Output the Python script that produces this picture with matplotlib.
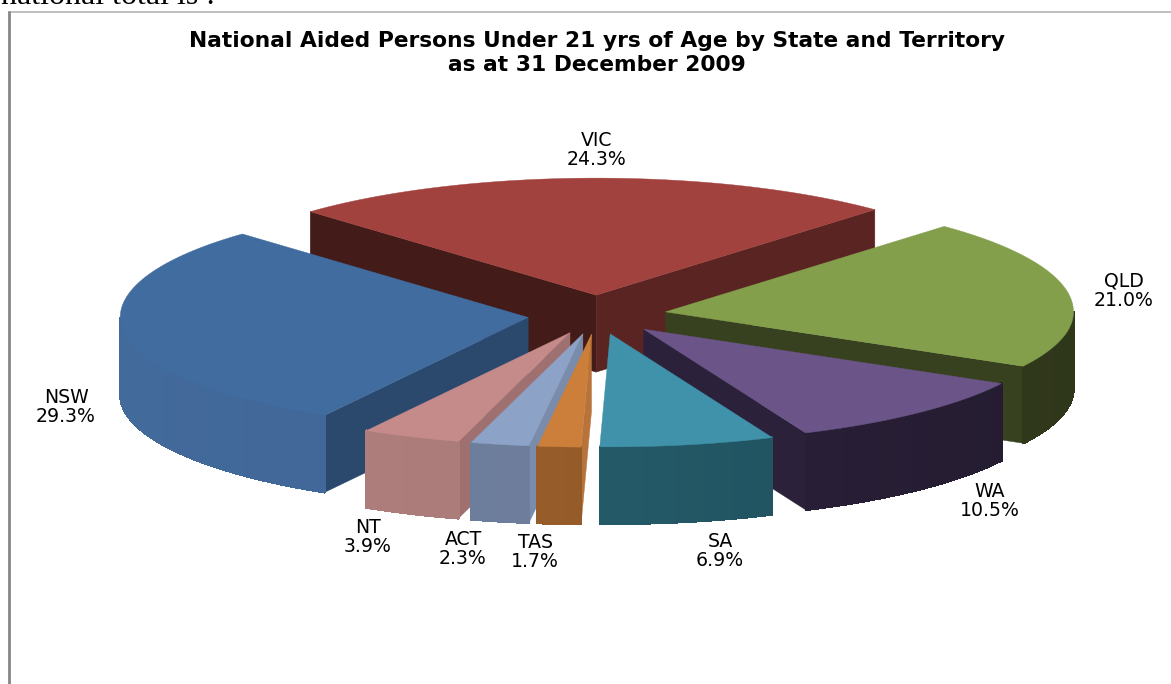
import numpy as np
import matplotlib
matplotlib.use('Agg')
import matplotlib.pyplot as plt
from matplotlib.patches import Polygon
from matplotlib.colors import to_rgb

names = ['VIC', 'QLD', 'WA', 'SA', 'TAS', 'ACT', 'NT', 'NSW']
values = [24.3, 21.0, 10.5, 6.9, 1.7, 2.3, 3.9, 29.3]

top_colors = ['#a2423e', '#839f4c', '#6a5488', '#3f92a9', '#cc7f3a', '#8ca2c6', '#c58b8a', '#416c9f']
wall_colors = ['#5a2422', '#38411f', '#2b213a', '#245a68', '#955c2a', '#6c7c9a', '#a97a78', '#3f6594']
start_colors = ['#431b18', '#38411f', '#2b213a', '#245a68', '#b8733a', '#7a8cab', '#9e7070', '#2b486d']
end_colors = ['#5a2422', '#38411f', '#2b213a', '#245a68', '#955c2a', '#6c7c9a', '#a97a78', '#3f6594']

label_x = [597, 1124, 990, 720, 535, 463, 368, 66]
label_y = [150, 291, 501, 551, 552, 549, 537, 407]

cx, cy = 597, 315
rx, ry = 408, 117
ry_front = 113
depth = 77
explode = 0.17
rotation = -0.7

fig = plt.figure(figsize=(11.71, 6.84), dpi=100)
ax = fig.add_axes([0, 0, 1, 1])
ax.set_xlim(0, 1171)
ax.set_ylim(684, 0)
ax.axis('off')


def pt(ox, oy, t, r=1.0):
    # near half of the ellipse is a little flatter than the far half
    h = np.where(np.cos(t) >= 0, ry, ry_front)
    return ox + r * rx * np.sin(t), oy - r * h * np.cos(t)


def shade(color, f):
    return tuple(min(1, c * f) for c in to_rgb(color))


total = sum(values)
angles = np.cumsum([0] + values) / total * 2 * np.pi - np.radians(values[0] / total * 180 - rotation)

slices = []
for i in range(len(values)):
    slices.append((i, angles[i], angles[i + 1]))
# paint back to front
slices.sort(key=lambda s: -np.cos((s[1] + s[2]) / 2))

for i, a, b in slices:
    mid = (a + b) / 2
    ox, oy = pt(cx, cy, mid, explode)
    # side walls from the centre out to the rim
    if np.sin(a) < 0:
        x, y = pt(ox, oy, a)
        ax.add_patch(Polygon([(ox, oy), (x, y), (x, y + depth), (ox, oy + depth)],
                             fc=start_colors[i], ec=start_colors[i], lw=0.3))
    if np.sin(b) > 0:
        x, y = pt(ox, oy, b)
        ax.add_patch(Polygon([(ox, oy), (x, y), (x, y + depth), (ox, oy + depth)],
                             fc=end_colors[i], ec=end_colors[i], lw=0.3))
    # rim, only the part facing us
    t0 = max(a, np.pi / 2)
    t1 = min(b, 3 * np.pi / 2)
    if t1 > t0:
        ts = np.linspace(t0, t1, int((t1 - t0) / np.radians(1.5)) + 2)
        for u, v in zip(ts[:-1], ts[1:]):
            f = 1 - 0.16 * max(np.sin(u), 0) + 0.05 * max(-np.sin(u), 0)
            c = shade(wall_colors[i], f)
            x0, y0 = pt(ox, oy, u)
            x1, y1 = pt(ox, oy, v)
            ax.add_patch(Polygon([(x0, y0), (x1, y1), (x1, y1 + depth), (x0, y0 + depth)],
                                 fc=c, ec=c, lw=1.0, antialiased=False))
    # top face
    ts = np.linspace(a, b, 80)
    xs, ys = pt(ox, oy, ts)
    ax.add_patch(Polygon(np.r_[[(ox, oy)], np.c_[xs, ys]], fc=top_colors[i], ec=top_colors[i], lw=0.3))

for i in range(len(names)):
    ax.text(label_x[i], label_y[i], '%s\n%.1f%%' % (names[i], values[i]), ha='center', va='center',
            family='DejaVu Sans', fontsize=13.6, color='black', linespacing=1.03)

ax.text(597, 53, 'National Aided Persons Under 21 yrs of Age by State and Territory\nas at 31 December 2009',
        ha='center', va='center', family='DejaVu Sans', fontweight='bold', fontsize=15.7, linespacing=1.25)

# page furniture around the chart
ax.text(1, 4, 'national total is :', ha='left', va='baseline', family='Liberation Serif', fontsize=23)
ax.plot([8, 1171], [11.5, 11.5], color='#b4b4b4', lw=1.2, solid_capstyle='butt')
ax.plot([8.7, 8.7], [11, 684], color='#868686', lw=2.0, solid_capstyle='butt')

fig.savefig('out.png', dpi=100)
